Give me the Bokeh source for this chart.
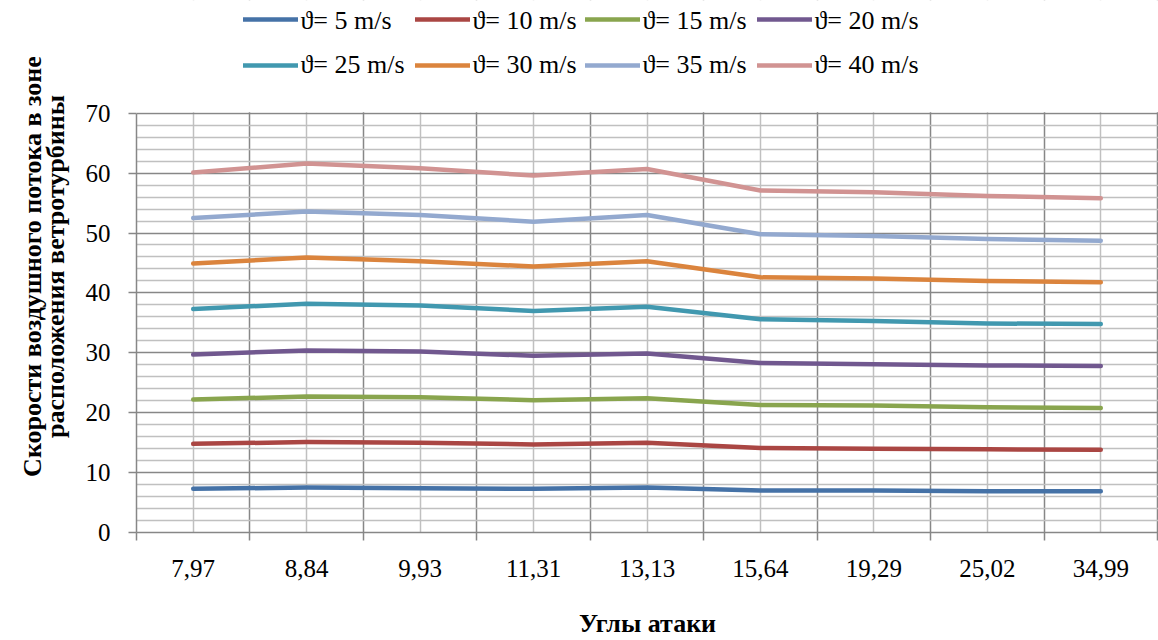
from bokeh.plotting import figure
from bokeh.models import Range1d, FixedTicker, Legend, LegendItem, BoxAnnotation, Label
from bokeh.embed import file_html
from bokeh.resources import INLINE

# ---- data ----
angles = ["7,97", "8,84", "9,93", "11,31", "13,13", "15,64", "19,29", "25,02", "34,99"]
v5 = [7.3, 7.5, 7.4, 7.3, 7.5, 7.0, 7.0, 6.9, 6.9]
v10 = [14.8, 15.1, 15.0, 14.7, 15.0, 14.1, 14.0, 13.9, 13.8]
v15 = [22.2, 22.7, 22.6, 22.1, 22.4, 21.3, 21.2, 20.9, 20.8]
v20 = [29.7, 30.4, 30.2, 29.5, 29.9, 28.3, 28.1, 27.9, 27.8]
v25 = [37.3, 38.2, 37.9, 37.0, 37.7, 35.6, 35.3, 34.9, 34.8]
v30 = [44.9, 45.9, 45.3, 44.4, 45.3, 42.6, 42.4, 42.0, 41.8]
v35 = [52.5, 53.6, 53.0, 51.9, 53.0, 49.8, 49.5, 49.0, 48.7]
v40 = [60.1, 61.6, 60.8, 59.6, 60.7, 57.1, 56.8, 56.2, 55.8]
series_names = ["\u03d1= 5 m/s", "\u03d1= 10 m/s", "\u03d1= 15 m/s", "\u03d1= 20 m/s",
                "\u03d1= 25 m/s", "\u03d1= 30 m/s", "\u03d1= 35 m/s", "\u03d1= 40 m/s"]
series_values = [v5, v10, v15, v20, v25, v30, v35, v40]
colors = ["#4572A7", "#AA4643", "#89A54E", "#71588F",
          "#4198AF", "#DB843D", "#93A9CF", "#D19392"]
y_ticks = [0, 10, 20, 30, 40, 50, 60, 70]
y_minor = [v for v in range(0, 71, 2) if v % 10]
x_title = "Углы атаки"
y_title = "Скорости воздушного потока в зоне\nрасположения ветротурбины"

FONT = "Liberation Serif"
DARK = "#878787"
LIGHT = "#c0c0c0"

W, H = 1158, 640
BORDER_LEFT, BORDER_BOTTOM = 136, 102
PLOT_TOP = 114            # pixel row where the value axis ends (top of chart area)

n = len(angles)
xs = list(range(n))
centers = list(range(n))
bounds = [i - 0.5 for i in range(n + 1)]
y_max = y_ticks[-1]
frame_h = H - BORDER_BOTTOM
frame_w = W - BORDER_LEFT
# the frame also holds the legend band above the chart area
y_top = y_max * frame_h / (frame_h - PLOT_TOP)
x_pad = (n) / (W - 1 - BORDER_LEFT)   # one pixel so the last border line is drawn
x_start, x_end = -0.5, n - 0.5 + x_pad

p = figure(width=W, height=H, output_backend="svg", toolbar_location=None,
           x_range=Range1d(x_start, x_end), y_range=Range1d(0, y_top),
           min_border_left=BORDER_LEFT, min_border_right=0, min_border_top=0,
           min_border_bottom=BORDER_BOTTOM, background_fill_color="white",
           border_fill_color="white")
p.outline_line_color = None

# grids
p.xgrid.ticker = FixedTicker(ticks=bounds, minor_ticks=centers)
p.xgrid.grid_line_color = DARK
p.xgrid.grid_line_width = 1.5
p.xgrid.minor_grid_line_color = LIGHT
p.xgrid.minor_grid_line_width = 1.5
p.ygrid.ticker = FixedTicker(ticks=y_ticks, minor_ticks=y_minor)
p.ygrid.grid_line_color = DARK
p.ygrid.grid_line_width = 1.5
p.ygrid.minor_grid_line_color = LIGHT
p.ygrid.minor_grid_line_width = 1.5

# x axis
xa = p.xaxis[0]
xa.ticker = FixedTicker(ticks=centers, minor_ticks=bounds)
xa.major_label_overrides = {i: a for i, a in enumerate(angles)}
xa.major_tick_out = 0
xa.major_tick_in = 0
xa.minor_tick_out = 8
xa.minor_tick_in = 0
xa.minor_tick_line_color = DARK
xa.minor_tick_line_width = 1.5
xa.axis_line_color = DARK
xa.axis_line_width = 1.5
xa.major_label_text_font = FONT
xa.major_label_text_font_size = "25px"
xa.major_label_text_color = "black"
xa.major_label_standoff = 19
xa.axis_label = x_title
xa.axis_label_text_font = FONT
xa.axis_label_text_font_style = "bold"
xa.axis_label_text_font_size = "26px"
xa.axis_label_text_color = "black"
xa.axis_label_standoff = 29

# y axis
ya = p.yaxis[0]
ya.ticker = FixedTicker(ticks=y_ticks)
ya.bounds = (0, y_max)
ya.major_tick_out = 8
ya.major_tick_in = 0
ya.major_tick_line_color = DARK
ya.major_tick_line_width = 1.5
ya.minor_tick_line_color = None
ya.axis_line_color = DARK
ya.axis_line_width = 1.5
ya.major_label_text_font = FONT
ya.major_label_text_font_size = "25px"
ya.major_label_text_color = "black"
ya.major_label_standoff = 18
ya.axis_label = y_title
ya.axis_label_text_font = FONT
ya.axis_label_text_font_style = "bold"
ya.axis_label_text_font_size = "26px"
ya.axis_label_text_color = "black"
ya.axis_label_text_line_height = 0.76
ya.axis_label_text_align = "center"
ya.axis_label_standoff = 13

# lines
renderers = []
for vals, c in zip(series_values, colors):
    r = p.line(xs, vals, line_width=4.5, line_color=c, line_cap="round",
               line_join="round")
    renderers.append(r)

# white band above the chart area hides the grid there (legend sits on it)
p.add_layout(BoxAnnotation(bottom=y_max + 0.15, fill_color="white", fill_alpha=1.0,
                           line_color=None))

# legend: 2 rows x 4 columns above the chart area
# line samples come from Legend; the serif label texts are Labels beside them
col_x = [107, 279, 449, 621]          # glyph start, px from frame left
row_y = [499, 453]                    # legend bottom, px from frame bottom
row_center_px = [20, 65]              # text centre rows, px from top


def px_to_x(px):
    return x_start + px / frame_w * (x_end - x_start)


def py_to_y(py):
    return (frame_h - py) / frame_h * y_top


for i, (name, r) in enumerate(zip(series_names, renderers)):
    lg = Legend(items=[LegendItem(label=" ", renderers=[r])],
                location=(col_x[i % 4], row_y[i // 4]),
                glyph_width=55, glyph_height=28, label_height=28,
                label_width=1, label_standoff=0, padding=0, margin=0, spacing=0,
                border_line_color=None, background_fill_alpha=0,
                label_text_font=FONT, label_text_font_size="26px",
                label_text_color="black")
    p.add_layout(lg)
    p.add_layout(Label(x=px_to_x(col_x[i % 4] + 57), y=py_to_y(row_center_px[i // 4]),
                       text=name, text_font=FONT, text_font_size="26px",
                       text_color="black", text_align="left",
                       text_baseline="middle"))

open("out.html", "w").write(file_html(p, INLINE))
